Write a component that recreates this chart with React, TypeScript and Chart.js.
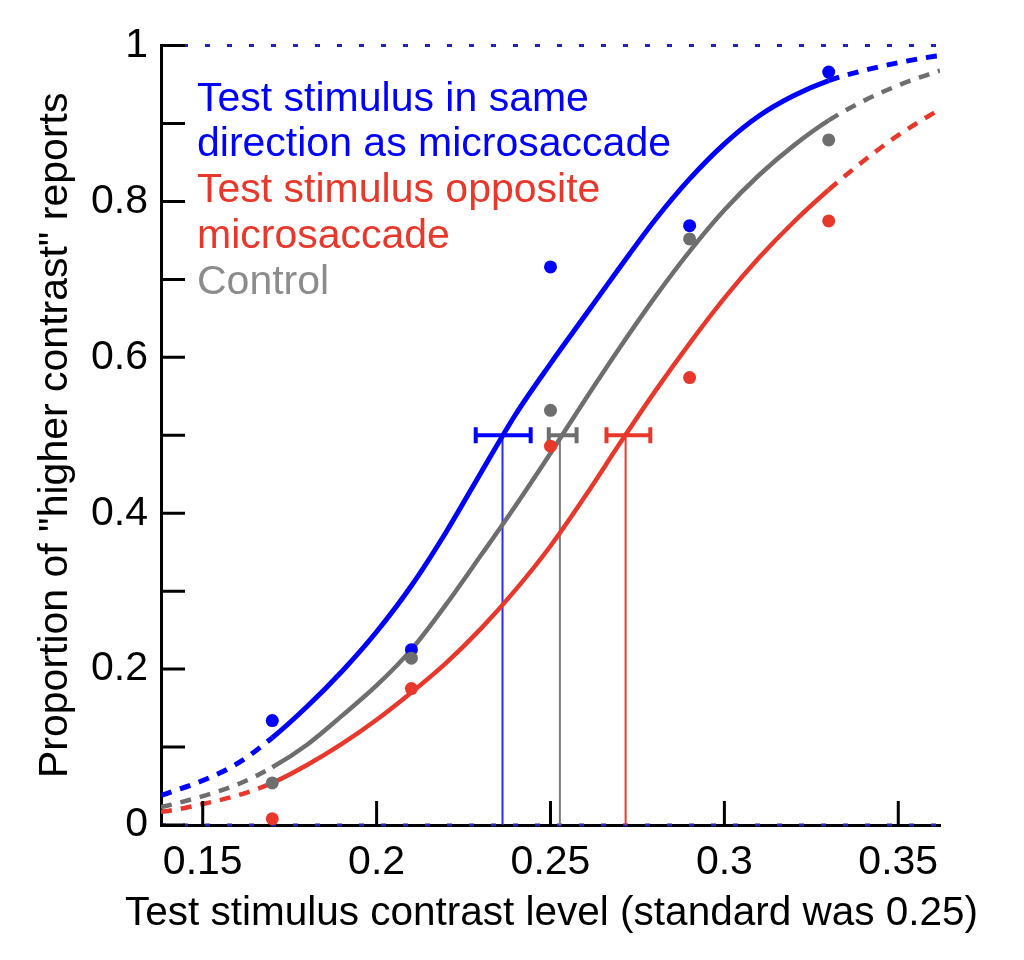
import { useEffect, useRef } from 'react'
import Chart from 'chart.js/auto'
import type { Plugin, ScriptableLineSegmentContext } from 'chart.js'

// fitted psychometric curves
const curveX = [
  0.138, 0.14, 0.15, 0.16, 0.17, 0.18, 0.19, 0.2, 0.21, 0.22, 0.23, 0.24, 0.25,
  0.26, 0.27, 0.28, 0.29, 0.3, 0.31, 0.32, 0.33, 0.34, 0.35, 0.36, 0.362,
]
const sameFit = [
  0.038, 0.041, 0.057, 0.079, 0.112, 0.152, 0.197, 0.248, 0.307, 0.376, 0.452,
  0.527, 0.592, 0.654, 0.716, 0.776, 0.829, 0.874, 0.91, 0.936, 0.955, 0.968,
  0.978, 0.986, 0.987,
]
const controlFit = [
  0.023, 0.025, 0.037, 0.052, 0.074, 0.103, 0.14, 0.179, 0.225, 0.283, 0.346,
  0.41, 0.477, 0.546, 0.613, 0.677, 0.736, 0.789, 0.834, 0.872, 0.904, 0.929,
  0.949, 0.965, 0.968,
]
const oppositeFit = [
  0.017, 0.018, 0.027, 0.038, 0.054, 0.077, 0.104, 0.135, 0.17, 0.208, 0.252,
  0.302, 0.358, 0.422, 0.49, 0.556, 0.618, 0.676, 0.728, 0.774, 0.815, 0.852,
  0.885, 0.913, 0.918,
]

// measured proportions
const contrastLevels = [0.17, 0.21, 0.25, 0.29, 0.33]
const sameObserved = [0.134, 0.225, 0.716, 0.769, 0.966]
const controlObserved = [0.054, 0.214, 0.532, 0.752, 0.879]
const oppositeObserved = [0.008, 0.175, 0.486, 0.574, 0.775]

// 50% points with their confidence bars: same, control, opposite
const thresholds = [0.2362, 0.2527, 0.2716]
const thresholdLow = [0.2285, 0.2495, 0.2661]
const thresholdHigh = [0.2443, 0.2575, 0.2787]

const xTicks = [0.15, 0.2, 0.25, 0.3, 0.35]
const xTickLabels = ['0.15', '0.2', '0.25', '0.3', '0.35']
const yTicks = [0, 0.1, 0.2, 0.3, 0.4, 0.5, 0.6, 0.7, 0.8, 0.9, 1]
const yTickLabels = ['0', '', '0.2', '', '0.4', '', '0.6', '', '0.8', '', '1']

const xTitle = 'Test stimulus contrast level (standard was 0.25)'
const yTitle = 'Proportion of "higher contrast" reports'

const legendLines = [
  'Test stimulus in same',
  'direction as microsaccade',
  'Test stimulus opposite',
  'microsaccade',
  'Control',
]

const BLUE = '#0000ff'
const GRAY = '#6e6e6e'
const RED = '#e8382b'
const legendColors = [BLUE, BLUE, RED, RED, '#8c8c8c']
const FONT = '"Liberation Sans", Arial, sans-serif'

const X_MIN = 0.138
const X_MAX = 0.362
const SOLID_FROM = 0.17
const SOLID_TO = 0.33

function toPoints(xs: number[], ys: number[]) {
  return xs.map((x, i) => ({ x, y: ys[i] }))
}

function fitDataset(label: string, values: number[], color: string, width: number) {
  return {
    type: 'line' as const,
    label,
    data: toPoints(curveX, values),
    borderColor: color,
    borderWidth: width,
    pointRadius: 0,
    cubicInterpolationMode: 'monotone' as const,
    order: 5,
    segment: {
      borderDash: (ctx: ScriptableLineSegmentContext) =>
        ctx.p0.parsed.x < SOLID_FROM - 1e-9 || ctx.p1.parsed.x > SOLID_TO + 1e-9
          ? [11, 9]
          : undefined,
    },
  }
}

function dotDataset(label: string, values: number[], color: string) {
  return {
    type: 'scatter' as const,
    label,
    data: toPoints(contrastLevels, values),
    backgroundColor: color,
    borderWidth: 0,
    pointRadius: 6.5,
    showLine: false,
    order: 1,
  }
}

function thresholdDatasets(index: number, color: string, stemColor: string) {
  return [
    {
      type: 'line' as const,
      label: `stem-${index}`,
      data: [
        { x: thresholds[index], y: 0 },
        { x: thresholds[index], y: 0.5 },
      ],
      borderColor: stemColor,
      borderWidth: 2,
      pointRadius: 0,
      order: 6,
    },
    {
      type: 'line' as const,
      label: `bar-${index}`,
      data: [
        { x: thresholdLow[index], y: 0.5 },
        { x: thresholdHigh[index], y: 0.5 },
      ],
      borderColor: color,
      borderWidth: 4,
      pointStyle: 'line' as const,
      rotation: 90,
      pointRadius: 8,
      pointBorderWidth: 4,
      pointBorderColor: color,
      order: 4,
    },
  ]
}

function referenceLine(y: number) {
  return {
    type: 'line' as const,
    label: `ref-${y}`,
    data: [
      { x: X_MIN, y },
      { x: X_MAX, y },
    ],
    borderColor: '#2222c0',
    borderWidth: 3,
    borderDash: [5, 17],
    pointRadius: 0,
    clip: false as const,
    order: 7,
  }
}

const inwardTicks: Plugin<'line'> = {
  id: 'inwardTicks',
  afterDraw(chart) {
    const { ctx, chartArea, scales } = chart
    ctx.save()
    ctx.strokeStyle = '#000'
    ctx.lineWidth = 3
    ctx.beginPath()
    xTicks.forEach((value) => {
      const px = scales.x.getPixelForValue(value)
      ctx.moveTo(px, chartArea.bottom)
      ctx.lineTo(px, chartArea.bottom - 24)
    })
    yTicks.forEach((value) => {
      const py = scales.y.getPixelForValue(value)
      ctx.moveTo(chartArea.left, py)
      ctx.lineTo(chartArea.left + 24, py)
    })
    ctx.stroke()
    ctx.restore()
  },
}

// free text: legend block and the x title (Chart.js would squeeze the title to the axis width)
const textLabels: Plugin<'line'> = {
  id: 'textLabels',
  afterDraw(chart) {
    const { ctx, chartArea } = chart
    ctx.save()
    ctx.font = `41px ${FONT}`
    ctx.textAlign = 'left'
    ctx.textBaseline = 'alphabetic'
    legendLines.forEach((line, i) => {
      ctx.fillStyle = legendColors[i]
      ctx.fillText(line, chartArea.left + 36, chartArea.top + 65 + i * 45.8)
    })
    ctx.font = `40.5px ${FONT}`
    ctx.textAlign = 'center'
    ctx.fillStyle = '#000'
    ctx.fillText(xTitle, (chartArea.left + chartArea.right) / 2 + 1, chartArea.bottom + 100)
    ctx.restore()
  },
}

function ContrastChart() {
  const canvasRef = useRef<HTMLCanvasElement | null>(null)

  useEffect(() => {
    if (!canvasRef.current) {
      return undefined
    }

    Chart.defaults.font.family = FONT

    const chart = new Chart(canvasRef.current, {
      type: 'line',
      data: {
        datasets: [
          referenceLine(1),
          referenceLine(0),
          ...thresholdDatasets(0, BLUE, '#2a2aff'),
          ...thresholdDatasets(1, GRAY, '#7c7c7c'),
          ...thresholdDatasets(2, RED, '#ee3a2e'),
          fitDataset('Opposite fit', oppositeFit, RED, 4.5),
          fitDataset('Control fit', controlFit, GRAY, 4.5),
          fitDataset('Same fit', sameFit, BLUE, 5),
          dotDataset('Opposite', oppositeObserved, RED),
          dotDataset('Control', controlObserved, GRAY),
          dotDataset('Same', sameObserved, BLUE),
        ] as any,
      },
      options: {
        animation: false,
        responsive: true,
        maintainAspectRatio: false,
        layout: {
          padding: { top: 35, right: 76, bottom: 0, left: 0 },
        },
        plugins: {
          legend: { display: false },
          tooltip: { enabled: false },
        },
        scales: {
          x: {
            type: 'linear',
            min: X_MIN,
            max: X_MAX,
            afterBuildTicks: (scale) => {
              scale.ticks = xTicks.map((value) => ({ value }))
            },
            afterFit: (scale) => {
              scale.height = 127
            },
            grid: { display: false, drawTicks: false },
            border: { display: true, color: '#000', width: 3 },
            ticks: {
              autoSkip: false,
              maxRotation: 0,
              padding: 13,
              color: '#000',
              font: { size: 41 },
              callback: (_value, index) => xTickLabels[index] ?? '',
            },
          },
          y: {
            type: 'linear',
            min: 0,
            max: 1,
            afterBuildTicks: (scale) => {
              scale.ticks = yTicks.map((value) => ({ value }))
            },
            afterFit: (scale) => {
              scale.width = 153
            },
            grid: { display: false, drawTicks: false },
            border: { display: true, color: '#000', width: 3 },
            ticks: {
              autoSkip: false,
              padding: 13,
              color: '#000',
              font: { size: 41 },
              callback: (_value, index) => yTickLabels[index] ?? '',
            },
            title: {
              display: true,
              text: yTitle,
              color: '#000',
              font: { size: 41 },
              padding: { top: 23, bottom: 0 },
            },
          },
        },
      },
      plugins: [inwardTicks, textLabels],
    })

    return () => {
      chart.destroy()
    }
  }, [])

  return (
    <div style={{ width: 1008, height: 944, position: 'relative' }}>
      <canvas ref={canvasRef} />
    </div>
  )
}

export default function App() {
  return <ContrastChart />
}
